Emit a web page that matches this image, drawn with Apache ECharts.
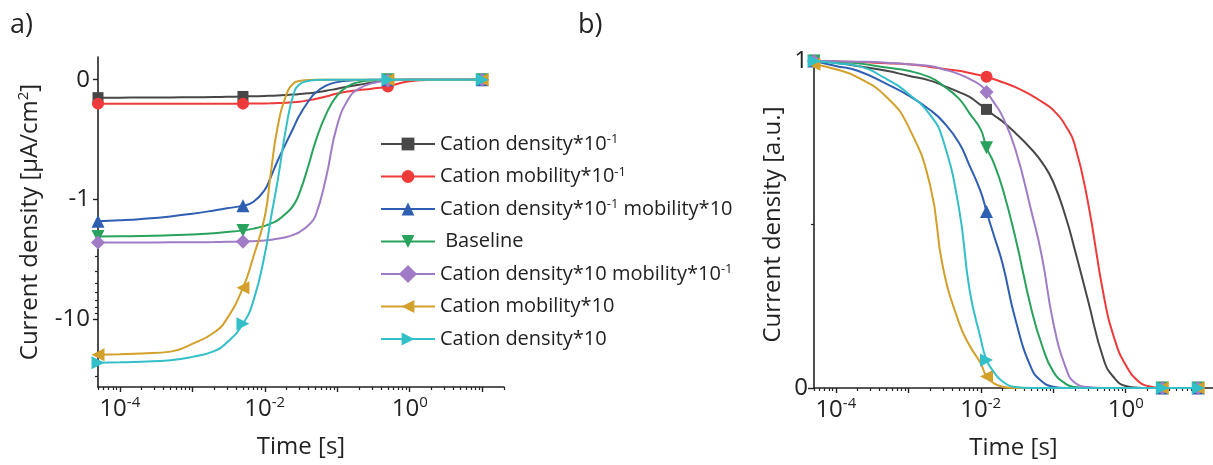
<!DOCTYPE html>
<html>
<head>
<meta charset="utf-8">
<script src="https://cdn.jsdelivr.net/npm/echarts@6/dist/echarts.min.js"></script>
<style>
  html, body { margin: 0; padding: 0; background: #fff; }
  #chart { width: 1213px; height: 465px; }
</style>
</head>
<body>
<div id="chart"></div>
<script>
// ---- series names (legend order) ----
const seriesNames = [
  'Cation density*10^-1',
  'Cation mobility*10^-1',
  'Cation density*10^-1 mobility*10',
  'Baseline',
  'Cation density*10 mobility*10^-1',
  'Cation mobility*10',
  'Cation density*10'
];
const legendLabels = [
  'Cation density*10{sup|-1}',
  'Cation mobility*10{sup|-1}',
  'Cation density*10{sup|-1} mobility*10',
  ' Baseline',
  'Cation density*10 mobility*10{sup|-1}',
  'Cation mobility*10',
  'Cation density*10'
];

// ---- panel a: current density [uA/cm2] vs time [s] ----
const timesA = [5e-5, 1e-4, 2e-4, 5e-4, 1e-3, 2e-3, 3e-3, 5e-3, 7e-3, 1e-2, 1.2e-2, 1.5e-2, 2e-2, 2.5e-2, 3e-2, 4e-2, 5e-2, 7e-2, 0.1, 0.15, 0.2, 0.3, 0.5, 1, 2, 10];
const markerTimesA = [5e-5, 5e-3, 0.5, 10];
const densityLowA = [-0.15, -0.15, -0.149, -0.148, -0.147, -0.145, -0.143, -0.14, -0.138, -0.136, -0.134, -0.132, -0.128, -0.124, -0.12, -0.113, -0.106, -0.093, -0.075, -0.055, -0.042, -0.024, -0.004, 0, 0, 0];
const mobilityLowA = [-0.2, -0.2, -0.2, -0.2, -0.2, -0.2, -0.2, -0.2, -0.199, -0.198, -0.197, -0.195, -0.192, -0.188, -0.184, -0.172, -0.162, -0.14, -0.116, -0.096, -0.087, -0.075, -0.056, -0.012, -0.002, 0];
const densityLowMobHighA = [-1.53, -1.5, -1.46, -1.39, -1.32, -1.24, -1.19, -1.13, -1.05, -0.92, -0.82, -0.68, -0.52, -0.4, -0.3, -0.18, -0.11, -0.05, -0.02, -0.006, -0.002, 0, 0, 0, 0, 0];
const baselineA = [-2.05, -2.04, -2.03, -2.0, -1.97, -1.92, -1.88, -1.82, -1.76, -1.67, -1.6, -1.5, -1.3, -1.12, -0.95, -0.72, -0.52, -0.29, -0.13, -0.045, -0.02, -0.006, -0.001, 0, 0, 0];
const densityHighMobLowA = [-2.3, -2.3, -2.3, -2.29, -2.29, -2.28, -2.27, -2.26, -2.24, -2.21, -2.18, -2.14, -2.07, -1.98, -1.88, -1.65, -1.38, -0.82, -0.38, -0.14, -0.075, -0.03, -0.006, 0, 0, 0];
const mobilityHighA = [-20, -19.8, -19.5, -18.8, -16.2, -13, -10, -5.5, -3.0, -1.4, -0.8, -0.4, -0.12, -0.03, -0.01, -0.003, 0, 0, 0, 0, 0, 0, 0, 0, 0, 0];
const densityHighA = [-23.3, -23.1, -22.8, -22.2, -20.8, -18.6, -15.8, -11, -7.0, -2.9, -1.5, -0.85, -0.38, -0.12, -0.04, -0.01, -0.003, 0, 0, 0, 0, 0, 0, 0, 0, 0];

// ---- panel b: normalised current density vs time [s] ----
const timesB = [5e-5, 1e-4, 2e-4, 5e-4, 1e-3, 2e-3, 3e-3, 5e-3, 7e-3, 1e-2, 1.2e-2, 1.5e-2, 2e-2, 3e-2, 5e-2, 7e-2, 0.1, 0.15, 0.2, 0.3, 0.5, 0.7, 1, 1.5, 2, 3.2, 10];
const markerTimesB = [5e-5, 1.2e-2, 3.2, 10];
const densityLowB = [1, 0.995, 0.985, 0.97, 0.955, 0.94, 0.925, 0.905, 0.89, 0.865, 0.852, 0.835, 0.815, 0.78, 0.73, 0.69, 0.63, 0.52, 0.42, 0.27, 0.085, 0.03, 0.006, 0.001, 0, 0, 0];
const mobilityLowB = [1, 0.999, 0.997, 0.993, 0.99, 0.982, 0.976, 0.97, 0.963, 0.956, 0.952, 0.945, 0.935, 0.92, 0.895, 0.875, 0.85, 0.8, 0.74, 0.57, 0.28, 0.15, 0.07, 0.02, 0.006, 0, 0];
const densityLowMobHighB = [1, 0.985, 0.97, 0.93, 0.895, 0.85, 0.815, 0.75, 0.68, 0.6, 0.54, 0.47, 0.38, 0.21, 0.06, 0.02, 0.004, 0, 0, 0, 0, 0, 0, 0, 0, 0, 0];
const baselineB = [1, 0.998, 0.993, 0.98, 0.97, 0.95, 0.925, 0.885, 0.84, 0.79, 0.735, 0.69, 0.61, 0.46, 0.24, 0.13, 0.05, 0.012, 0.003, 0, 0, 0, 0, 0, 0, 0, 0];
const densityHighMobLowB = [1, 0.999, 0.998, 0.995, 0.99, 0.985, 0.975, 0.96, 0.945, 0.925, 0.905, 0.875, 0.83, 0.73, 0.54, 0.4, 0.2, 0.06, 0.015, 0.003, 0, 0, 0, 0, 0, 0, 0];
const mobilityHighB = [0.99, 0.975, 0.95, 0.89, 0.8, 0.62, 0.37, 0.2, 0.13, 0.075, 0.035, 0.015, 0.004, 0, 0, 0, 0, 0, 0, 0, 0, 0, 0, 0, 0, 0, 0];
const densityHighB = [1, 0.993, 0.985, 0.945, 0.9, 0.835, 0.76, 0.55, 0.3, 0.15, 0.086, 0.05, 0.02, 0.003, 0, 0, 0, 0, 0, 0, 0, 0, 0, 0, 0, 0, 0];

// ---- axis ticks ----
const timeMajorTicks = [1e-4, 1e-3, 1e-2, 1e-1, 1, 10];
const timeLabelTicks = [1e-4, 1e-2, 1];
const timeMinorMultipliers = [2, 3, 4, 5, 6, 7, 8, 9];
const timeMinorDecades = [1e-5, 1e-4, 1e-3, 1e-2, 1e-1, 1, 10];
const currentTicksA = [0, -1, -10];
const currentMinorTicksA = [-2, -3, -4, -5, -6, -7, -8, -9, -20, -30];

// ---- styling per series ----
const colors = ['#474747', '#ee3a3a', '#2f5fb2', '#28a25c', '#a07cc6', '#d3a02b', '#33bfc7'];
const symbols = ['rect', 'circle', 'triangle', 'triangle', 'rect', 'triangle', 'triangle'];
const symbolRotates = [0, 0, 0, 180, 45, 90, -90];
const symbolSizes = [11, 12, 13, 13, 10, 13, 13];

const FONT = '"Open Sans", "Noto Sans", sans-serif';
const TXT = '#222';

// Panel a y scale: linear up to |j| = 1, one decade per unit beyond that.
function toAxisA(v) {
  const a = Math.abs(v);
  return a <= 1 ? a : 1 + Math.log10(a);
}
function fromAxisA(t) {
  return t <= 1 ? -t : -Math.pow(10, t - 1);
}

const valuesA = [densityLowA, mobilityLowA, densityLowMobHighA, baselineA, densityHighMobLowA, mobilityHighA, densityHighA];
const valuesB = [densityLowB, mobilityLowB, densityLowMobHighB, baselineB, densityHighMobLowB, mobilityHighB, densityHighB];

function buildData(times, values, markerTimes, mapY) {
  return times.map((t, i) => {
    const item = { value: [t, mapY(values[i])] };
    if (markerTimes.indexOf(t) < 0) item.symbol = 'none';
    return item;
  });
}

const minorTimeTicks = [];
timeMinorDecades.forEach(d => timeMinorMultipliers.forEach(m => minorTimeTicks.push(d * m)));

function powLabel(v) {
  const e = Math.round(Math.log10(v));
  return '{b|10}{e|' + e + '}';
}
const powRich = {
  b: { fontSize: 24, lineHeight: 28, color: TXT, fontFamily: FONT },
  e: { fontSize: 15, lineHeight: 15, verticalAlign: 'top', color: TXT, fontFamily: FONT }
};

function makeSeries(idx, grid) {
  const isA = grid === 0;
  return {
    name: seriesNames[idx],
    type: 'line',
    xAxisIndex: isA ? 0 : 2,
    yAxisIndex: isA ? 0 : 2,
    data: isA
      ? buildData(timesA, valuesA[idx], markerTimesA, toAxisA)
      : buildData(timesB, valuesB[idx], markerTimesB, v => v),
    smooth: 0.5,
    showSymbol: true,
    symbol: symbols[idx],
    symbolSize: symbolSizes[idx],
    symbolRotate: symbolRotates[idx],
    lineStyle: { color: colors[idx], width: 2 },
    itemStyle: { color: colors[idx] },
    emphasis: { disabled: true },
    clip: true,
    z: 2 + idx
  };
}

const series = [];
for (let i = 0; i < 7; i++) series.push(makeSeries(i, 0));
for (let i = 0; i < 7; i++) series.push(makeSeries(i, 1));

const axisLineStyle = { color: TXT, width: 1.6 };

function timeAxes(grid, max) {
  return [
    {
      type: 'log', gridIndex: grid, logBase: 10, min: 5e-5, max: max, position: 'bottom',
      axisLine: { show: true, onZero: false, lineStyle: axisLineStyle },
      axisTick: { show: true, length: 5, customValues: timeMajorTicks, lineStyle: { color: TXT, width: 1.4 } },
      axisLabel: { show: true, customValues: timeLabelTicks, formatter: powLabel, margin: 8, rich: powRich },
      splitLine: { show: false },
      name: 'Time [s]', nameLocation: 'middle', nameGap: 48,
      nameTextStyle: { fontSize: 24, color: TXT, fontFamily: FONT }
    },
    {
      type: 'log', gridIndex: grid, logBase: 10, min: 5e-5, max: max, position: 'bottom',
      axisLine: { show: false, onZero: false },
      axisTick: { show: true, length: 3, customValues: minorTimeTicks, lineStyle: { color: TXT, width: 1.2 } },
      axisLabel: { show: false },
      splitLine: { show: false }
    }
  ];
}

const option = {
  animation: false,
  backgroundColor: '#fff',
  textStyle: { fontFamily: FONT },
  graphic: [
    { type: 'text', left: 10, top: 12, style: { text: 'a)', fontSize: 27, fill: TXT, fontFamily: FONT } },
    { type: 'text', left: 578, top: 12, style: { text: 'b)', fontSize: 27, fill: TXT, fontFamily: FONT } }
  ],
  legend: {
    orient: 'vertical',
    left: 375,
    top: 128,
    itemWidth: 54,
    itemHeight: 16,
    itemGap: 10.5,
    selectedMode: false,
    data: seriesNames,
    formatter: name => legendLabels[seriesNames.indexOf(name)],
    textStyle: {
      fontSize: 20, color: TXT, fontFamily: FONT, lineHeight: 22,
      rich: { sup: { fontSize: 13, lineHeight: 12, verticalAlign: 'top', color: TXT, fontFamily: FONT } }
    }
  },
  grid: [
    { left: 98, top: 57, width: 406, height: 330 },
    { left: 814, top: 61, width: 399, height: 327 }
  ],
  xAxis: timeAxes(0, 20).concat(timeAxes(1, 16)),
  yAxis: [
    {
      type: 'value', gridIndex: 0, inverse: true, min: -0.19, max: 2.57, position: 'left',
      axisLine: { show: true, onZero: false, lineStyle: axisLineStyle },
      axisTick: { show: true, length: 5, customValues: currentTicksA.map(toAxisA), lineStyle: { color: TXT, width: 1.4 } },
      axisLabel: {
        show: true, customValues: currentTicksA.map(toAxisA), margin: 8,
        fontSize: 24, color: TXT, fontFamily: FONT,
        formatter: v => { const r = Math.round(fromAxisA(v)); return r === 0 ? '0' : String(r); }
      },
      splitLine: { show: false },
      name: 'Current density [\u03bcA/cm{s|2}]', nameLocation: 'middle', nameGap: 54,
      nameTextStyle: {
        fontSize: 24, color: TXT, fontFamily: FONT, lineHeight: 28,
        rich: { s: { fontSize: 15, lineHeight: 15, verticalAlign: 'top', color: TXT, fontFamily: FONT } }
      }
    },
    {
      type: 'value', gridIndex: 0, inverse: true, min: -0.19, max: 2.57, position: 'left',
      axisLine: { show: false, onZero: false },
      axisTick: { show: true, length: 3, customValues: currentMinorTicksA.map(toAxisA), lineStyle: { color: TXT, width: 1.2 } },
      axisLabel: { show: false },
      splitLine: { show: false }
    },
    {
      type: 'value', gridIndex: 1, min: 0, max: 1, interval: 1, position: 'left',
      axisLine: { show: true, onZero: false, lineStyle: axisLineStyle },
      axisTick: { show: true, length: 6, lineStyle: { color: TXT, width: 1.4 } },
      minorTick: { show: true, splitNumber: 2, length: 3, lineStyle: { color: TXT, width: 1.2 } },
      axisLabel: { show: true, margin: 6, fontSize: 24, color: TXT, fontFamily: FONT },
      splitLine: { show: false },
      name: 'Current density [a.u.]', nameLocation: 'middle', nameGap: 29,
      nameTextStyle: { fontSize: 24, color: TXT, fontFamily: FONT }
    }
  ],
  series: series
};

const chart = echarts.init(document.getElementById('chart'), null, { renderer: 'canvas' });
chart.setOption(option);
</script>
</body>
</html>
